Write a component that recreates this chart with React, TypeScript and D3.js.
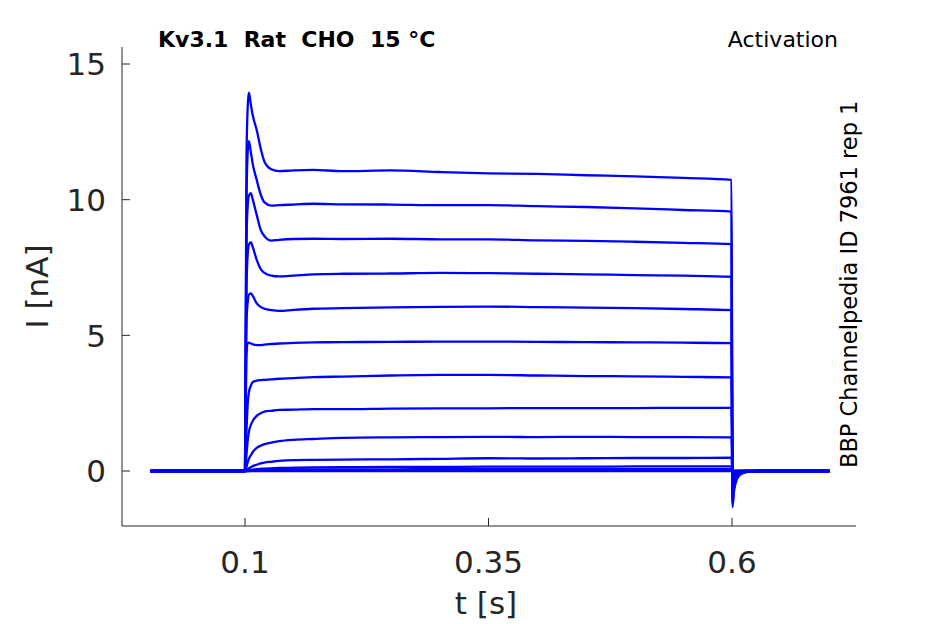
import * as d3 from "d3";

const WIDTH = 945;
const HEIGHT = 624;
const MARGIN = { top: 47, right: 89, bottom: 98, left: 122 };

// sample times [s] shared by every sweep
const TIME = [
  0.003, 0.1, 0.1015, 0.103, 0.104, 0.106, 0.108, 0.112, 0.116, 0.12, 0.127,
  0.135, 0.15, 0.17, 0.2, 0.25, 0.3, 0.35, 0.4, 0.45, 0.5, 0.55, 0.5995,
  0.6005, 0.602, 0.605, 0.609, 0.615, 0.63, 0.7,
];

// current [nA] for each voltage step
const sweep1 = [0, 0, 11.5, 13.6, 13.94, 13.5, 13.1, 12.57, 11.9, 11.4, 11.12, 11.05, 11.08, 11.1, 11.05, 11.08, 11.02, 10.97, 10.95, 10.9, 10.86, 10.8, 10.73, -1.33, -0.75, -0.3, -0.12, -0.04, 0, 0];
const sweep2 = [0, 0, 10.0, 11.9, 12.16, 11.75, 11.3, 10.73, 10.2, 9.9, 9.78, 9.8, 9.82, 9.85, 9.83, 9.82, 9.8, 9.8, 9.76, 9.73, 9.68, 9.62, 9.56, -1.2, -0.65, -0.25, -0.1, -0.03, 0, 0];
const sweep3 = [0, 0, 8.5, 9.9, 10.15, 10.24, 10.0, 9.44, 8.9, 8.65, 8.49, 8.52, 8.55, 8.56, 8.55, 8.56, 8.54, 8.54, 8.5, 8.48, 8.45, 8.41, 8.36, -1.1, -0.55, -0.22, -0.08, -0.02, 0, 0];
const sweep4 = [0, 0, 6.8, 8.1, 8.35, 8.43, 8.25, 7.78, 7.45, 7.3, 7.2, 7.17, 7.2, 7.25, 7.27, 7.28, 7.3, 7.29, 7.27, 7.25, 7.22, 7.2, 7.16, -0.95, -0.5, -0.2, -0.07, -0.02, 0, 0];
const sweep5 = [0, 0, 5.5, 6.3, 6.5, 6.55, 6.45, 6.18, 6.05, 5.98, 5.93, 5.9, 5.94, 5.98, 6.0, 6.03, 6.05, 6.06, 6.04, 6.02, 6.0, 5.97, 5.93, -0.8, -0.42, -0.16, -0.06, -0.02, 0, 0];
const sweep6 = [0, 0, 4.3, 4.72, 4.73, 4.7, 4.67, 4.64, 4.64, 4.66, 4.68, 4.7, 4.72, 4.74, 4.75, 4.76, 4.77, 4.77, 4.76, 4.75, 4.74, 4.73, 4.71, -0.65, -0.35, -0.13, -0.05, -0.01, 0, 0];
const sweep7 = [0, 0, 1.5, 2.6, 2.9, 3.15, 3.28, 3.33, 3.35, 3.36, 3.38, 3.4, 3.42, 3.46, 3.48, 3.52, 3.54, 3.54, 3.52, 3.5, 3.49, 3.47, 3.45, -0.5, -0.27, -0.1, -0.04, -0.01, 0, 0];
const sweep8 = [0, 0, 0.6, 1.2, 1.45, 1.7, 1.85, 2.03, 2.13, 2.19, 2.22, 2.25, 2.26, 2.28, 2.28, 2.3, 2.31, 2.31, 2.32, 2.32, 2.32, 2.33, 2.33, -0.35, -0.18, -0.07, -0.02, 0, 0, 0];
const sweep9 = [0, 0, 0.15, 0.35, 0.45, 0.58, 0.7, 0.85, 0.93, 0.99, 1.05, 1.1, 1.15, 1.18, 1.22, 1.24, 1.25, 1.26, 1.25, 1.26, 1.25, 1.25, 1.24, -0.2, -0.1, -0.04, -0.01, 0, 0, 0];
const sweep10 = [0, 0, 0.03, 0.08, 0.1, 0.14, 0.18, 0.23, 0.28, 0.31, 0.34, 0.37, 0.4, 0.41, 0.42, 0.43, 0.45, 0.47, 0.46, 0.47, 0.48, 0.48, 0.49, -0.08, -0.04, -0.01, 0, 0, 0, 0];
const sweep11 = [0, 0, 0.01, 0.02, 0.03, 0.04, 0.05, 0.07, 0.08, 0.09, 0.1, 0.11, 0.12, 0.13, 0.14, 0.15, 0.15, 0.16, 0.16, 0.16, 0.17, 0.17, 0.17, -0.03, -0.01, 0, 0, 0, 0, 0];
const sweep12 = [0, 0, 0, 0.01, 0.01, 0.02, 0.02, 0.03, 0.03, 0.04, 0.04, 0.05, 0.05, 0.06, 0.06, 0.06, 0.07, 0.07, 0.07, 0.07, 0.07, 0.07, 0.07, -0.01, 0, 0, 0, 0, 0, 0];
const sweep13 = [0, 0, 0, 0, 0, 0.01, 0.01, 0.01, 0.01, 0.01, 0.02, 0.02, 0.02, 0.02, 0.02, 0.02, 0.02, 0.02, 0.02, 0.02, 0.02, 0.02, 0.02, 0, 0, 0, 0, 0, 0, 0];
const sweep14 = [0, 0, 0, 0, 0, 0, 0, 0, 0, 0, 0, 0, 0, 0, 0, 0, 0, 0, 0, 0, 0, 0, 0, 0, 0, 0, 0, 0, 0, 0];

const SWEEPS = [
  sweep14, sweep13, sweep12, sweep11, sweep10, sweep9, sweep8,
  sweep7, sweep6, sweep5, sweep4, sweep3, sweep2, sweep1,
];

const X_TICKS = [0.1, 0.35, 0.6];
const Y_TICKS = [0, 5, 10, 15];

const TITLE = "Kv3.1\u00a0\u00a0Rat\u00a0\u00a0CHO\u00a0\u00a015 °C";
const PROTOCOL = "Activation";
const SOURCE = "BBP Channelpedia ID 7961 rep 1";

const AXIS_COLOR = "#262626";
const FONT = "DejaVu Sans, sans-serif";

export default function App() {
  const boundsWidth = WIDTH - MARGIN.left - MARGIN.right;
  const boundsHeight = HEIGHT - MARGIN.top - MARGIN.bottom;

  const xScale = d3.scaleLinear().domain([-0.0263, 0.7273]).range([0, boundsWidth]);
  const yScale = d3.scaleLinear().domain([-2.027, 15.627]).range([boundsHeight, 0]);

  const lineBuilder = d3
    .line<number>()
    .x((_, i) => xScale(TIME[i]))
    .y((d) => yScale(d))
    .curve(d3.curveMonotoneX);

  return (
    <svg
      width={WIDTH}
      height={HEIGHT}
      style={{ position: "absolute", left: 0, top: 0, background: "#fff" }}
    >
      <g transform={`translate(${MARGIN.left},${MARGIN.top})`}>
        {SWEEPS.map((s, i) => (
          <path
            key={i}
            d={lineBuilder(s) || ""}
            fill="none"
            stroke="#0000ff"
            strokeWidth={2.3}
            strokeLinejoin="round"
          />
        ))}

        {/* axes */}
        <line x1={0} x2={0} y1={0} y2={boundsHeight} stroke={AXIS_COLOR} strokeWidth={1} />
        <line x1={0} x2={boundsWidth} y1={boundsHeight} y2={boundsHeight} stroke={AXIS_COLOR} strokeWidth={1} />

        {Y_TICKS.map((t) => (
          <g key={t} transform={`translate(0,${yScale(t)})`}>
            <line x1={0} x2={8} stroke={AXIS_COLOR} />
            <text
              x={-16}
              dy="0.36em"
              textAnchor="end"
              fontFamily={FONT}
              fontSize={31}
              fill={AXIS_COLOR}
            >
              {t}
            </text>
          </g>
        ))}

        {X_TICKS.map((t) => (
          <g key={t} transform={`translate(${xScale(t)},${boundsHeight})`}>
            <line y1={0} y2={-8} stroke={AXIS_COLOR} />
            <text
              y={47}
              textAnchor="middle"
              fontFamily={FONT}
              fontSize={31}
              fill={AXIS_COLOR}
            >
              {t}
            </text>
          </g>
        ))}

        <text
          x={boundsWidth / 2 - 3}
          y={boundsHeight + 88}
          textAnchor="middle"
          fontFamily={FONT}
          fontSize={31}
          fill={AXIS_COLOR}
        >
          t [s]
        </text>
        <text
          transform={`translate(${48 - MARGIN.left},${boundsHeight / 2}) rotate(-90)`}
          textAnchor="middle"
          fontFamily={FONT}
          fontSize={31}
          fill={AXIS_COLOR}
        >
          I [nA]
        </text>
      </g>

      <text x={158} y={47} fontFamily={FONT} fontWeight="bold" fontSize={22} fill="#000">
        {TITLE}
      </text>
      <text x={838} y={47} textAnchor="end" fontFamily={FONT} fontSize={22} fill="#000">
        {PROTOCOL}
      </text>
      <text
        transform="translate(857,468) rotate(-90)"
        fontFamily={FONT}
        fontSize={22.5}
        fill="#000"
      >
        {SOURCE}
      </text>
    </svg>
  );
}
